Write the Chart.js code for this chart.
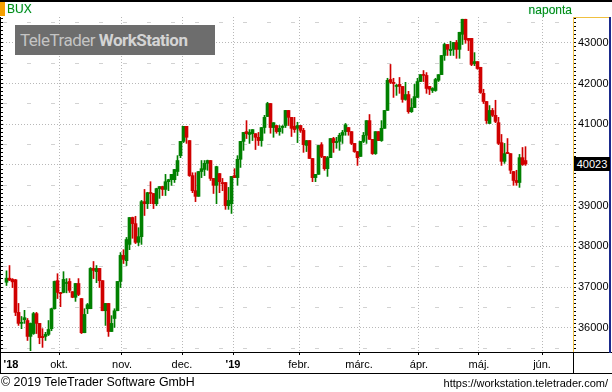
<!DOCTYPE html>
<html>
<head>
<meta charset="utf-8">
<script src="https://cdn.jsdelivr.net/npm/chart.js@4.4.1/dist/chart.umd.min.js"></script>
<style>
  html, body { margin: 0; padding: 0; background: #fff; }
  #box { position: relative; width: 612px; height: 392px; overflow: hidden; font-family: "Liberation Sans", Arial, sans-serif; }
  #box canvas { position: absolute; left: 0; top: 0; }
  .ln { position: absolute; }
  #sym { position: absolute; left: 7px; top: 2px; font-size: 12px; color: #0a8a0a; text-shadow: 0 0 1px #6ee0e0; }
  #per { position: absolute; right: 40px; top: 3px; font-size: 12px; color: #0a8a0a; text-shadow: 0 0 1px #6ee0e0; }
  #wm { position: absolute; left: 15px; top: 25px; width: 200px; height: 30px; background: #6d6d6d; font-family: Roboto, sans-serif; font-size: 17px; letter-spacing: -0.5px; line-height: 30px; white-space: nowrap; padding-left: 5px; box-sizing: border-box; }
  #wm span { color: #c4c4c4; }
  #wm b { color: #d4d4d4; }
  #last { position: absolute; left: 574px; width: 36px; height: 14px; background: #000; color: #fff; font-size: 11px; line-height: 14px; text-align: center; }
  #copy { position: absolute; left: 1px; top: 375px; font-size: 12.4px; color: #000; }
  #url { position: absolute; right: 4px; top: 377px; font-size: 11px; color: #000; }
</style>
</head>
<body>
<div id="box">
  <canvas id="chart" width="612" height="392"></canvas>

  <!-- keret -->
  <div class="ln" style="left:0;top:0;width:612px;height:2px;background:#000"></div>
  <div class="ln" style="left:0;top:2px;width:5px;height:14px;background:#f5a000"></div>
  <div class="ln" style="left:0;top:17px;width:1px;height:357px;background:#000"></div>
  <div class="ln" style="left:0;top:352px;width:612px;height:1px;background:#000"></div>
  <div class="ln" style="left:0;top:373px;width:612px;height:1px;background:#000"></div>
  <div class="ln" style="left:573px;top:17px;width:37px;height:1px;background:#f0c040"></div>
  <div class="ln" style="left:573px;top:17px;width:1px;height:335px;background:#f0c040"></div>
  <div class="ln" style="left:609px;top:17px;width:2px;height:336px;background:#1a2a8c"></div>
  <div class="ln" style="left:573px;top:352px;width:1px;height:22px;background:#000"></div>

  <div id="sym">BUX</div>
  <div id="per">naponta</div>
  <div id="wm"><span>TeleTrader </span><b>WorkStation</b></div>
  <div id="last"></div>
  <div id="copy">© 2019 TeleTrader Software GmbH</div>
  <div id="url">https://workstation.teletrader.com/</div>
</div>

<script>
// BUX napi gyertyák, 2018. szept. 5. – 2019. máj. 23.
const open = [
  37120, 37220, 37190, 37180, 36380, 36110, 36200, 36180, 35790, 35860,
  36350, 36110, 35790, 35790, 35840, 35980, 36470, 37160, 36870, 36870,
  37090, 37140, 36890, 36750, 37090, 36720, 35880, 36470, 36470, 37460,
  37380, 37460, 37160, 36420, 36600, 35910, 36230, 36420, 37140, 37780,
  37650, 38050, 38710, 38560, 38100, 38240, 39100, 39050, 39320, 39300,
  39050, 39420, 39470, 39400, 39590, 39640, 39640, 39840, 40230, 40580,
  40950, 40600, 39740, 39370, 39230, 39840, 39890, 40040, 40110, 39670,
  39500, 39790, 39570, 39570, 39000, 39050, 39740, 39690, 40140, 40580,
  40820, 40750, 40770, 40770, 40680, 40600, 40920, 41190, 41510, 40920,
  40970, 40820, 40920, 40970, 41340, 41170, 40950, 40900, 40970, 40850,
  40480, 40600, 40160, 39690, 39770, 40500, 40210, 39910, 40180, 40650,
  40550, 40580, 40730, 40820, 40920, 40820, 40530, 40330, 40210, 40580,
  40730, 41090, 40630, 40280, 40820, 40600, 40900, 41340, 42100, 42030,
  41930, 41980, 41930, 41610, 41730, 41310, 41410, 41660, 42050, 42220,
  42200, 41930, 41830, 41830, 42080, 42220, 42690, 42960, 42810, 42840,
  43010, 42840, 43210, 43580, 43110, 43110, 42490, 42540, 42400, 41760,
  41560, 41020, 41340, 41220, 41040, 40550, 40090, 40310, 40280, 39840,
  39620, 39570, 40180, 40110
];
const high = [
  37400, 37530, 37210, 37190, 36600, 36280, 36430, 36230, 36120, 36380,
  36380, 36110, 35980, 35890, 36180, 36480, 37150, 37330, 36870, 37380,
  37210, 37210, 36890, 37090, 37210, 36720, 36470, 36600, 37480, 37630,
  37530, 37460, 37160, 36600, 36600, 36300, 36470, 37140, 37850, 37920,
  38220, 38710, 38720, 38740, 38460, 39130, 39400, 39330, 39590, 39300,
  39430, 39470, 39480, 39770, 39650, 39770, 39890, 40230, 40580, 40950,
  40950, 40600, 39810, 39810, 39840, 40110, 40110, 40120, 40110, 39670,
  39970, 39790, 39670, 39570, 39450, 39720, 39910, 40230, 40580, 40800,
  41090, 40870, 40870, 40770, 40800, 40920, 41220, 41540, 41510, 41040,
  40970, 40970, 40970, 41340, 41340, 41170, 41170, 41050, 40970, 40900,
  40600, 40600, 40160, 39770, 40480, 40550, 40210, 40210, 40650, 40680,
  40680, 40780, 40850, 41020, 40920, 40820, 40530, 40330, 40580, 40800,
  41090, 41240, 40630, 40820, 40820, 41090, 41340, 42130, 42470, 42130,
  41980, 42150, 41930, 42030, 41810, 41630, 41980, 42130, 42220, 42320,
  42270, 41930, 41900, 42130, 42220, 42690, 42990, 42960, 43040, 43010,
  43060, 43260, 43580, 43580, 43110, 43110, 42760, 42540, 42400, 41860,
  41560, 41460, 41390, 41590, 41170, 40750, 40530, 40650, 40280, 39840,
  39870, 40260, 40430, 40450
];
const low = [
  37040, 37160, 36990, 36300, 36060, 35980, 36110, 35690, 35440, 35840,
  35860, 35610, 35520, 35690, 35810, 35930, 36460, 36720, 36520, 36860,
  36860, 36870, 36740, 36650, 36790, 35860, 35880, 36350, 36470, 37210,
  37110, 36990, 36420, 36060, 35790, 35910, 36010, 36420, 36990, 37580,
  37530, 37920, 38200, 38070, 38020, 38050, 38760, 38930, 39050, 38930,
  39000, 39180, 39250, 39250, 39370, 39500, 39570, 39740, 40180, 40550,
  40530, 39720, 39320, 39100, 39230, 39690, 39740, 39870, 39620, 39300,
  39050, 39320, 39370, 38910, 38910, 38810, 39690, 39500, 39940, 40360,
  40650, 40530, 40600, 40380, 40480, 40460, 40780, 41190, 40780, 40680,
  40780, 40730, 40780, 40920, 40970, 40700, 40800, 40550, 40800, 40310,
  40330, 40160, 39590, 39590, 39770, 40180, 39870, 39720, 40180, 40310,
  40410, 40360, 40530, 40730, 40730, 40500, 40310, 39990, 40210, 40550,
  40530, 40630, 40260, 40260, 40600, 40580, 40900, 41340, 42000, 41660,
  41710, 41760, 41540, 41590, 41270, 41290, 41410, 41660, 42050, 42050,
  41760, 41730, 41780, 41810, 42050, 42220, 42570, 42690, 42690, 42690,
  42620, 42620, 42960, 42990, 42810, 42440, 42440, 42350, 41760, 41510,
  41020, 41020, 41190, 41040, 40500, 39990, 40040, 40280, 39790, 39500,
  39500, 39450, 39990, 39990
];
const close = [
  37220, 37170, 37130, 36380, 36110, 36130, 36250, 35790, 36110, 36350,
  36110, 35760, 35760, 35840, 35960, 36470, 37140, 36870, 36840, 37190,
  37110, 36920, 36750, 37090, 36820, 35880, 36330, 36570, 37460, 37410,
  37460, 37160, 36420, 36600, 35910, 36110, 36420, 37140, 37780, 37680,
  38170, 38710, 38560, 38100, 38240, 39100, 39050, 39320, 39300, 39050,
  39420, 39470, 39400, 39590, 39640, 39770, 39890, 40110, 40580, 40950,
  40680, 39740, 39370, 39230, 39840, 39910, 40040, 40110, 39670, 39500,
  39960, 39590, 39540, 39000, 39130, 39720, 39690, 40140, 40580, 40800,
  40770, 40800, 40870, 40680, 40600, 40920, 41170, 41510, 40920, 41040,
  40820, 40900, 40950, 41340, 41170, 40900, 40870, 40970, 40850, 40500,
  40600, 40160, 39690, 39770, 40480, 40210, 39910, 40180, 40650, 40550,
  40580, 40730, 40800, 40990, 40820, 40530, 40330, 40180, 40580, 40730,
  41090, 40630, 40280, 40820, 40600, 40900, 41340, 42080, 42030, 42000,
  41950, 41930, 41610, 41730, 41310, 41410, 41680, 42050, 42220, 42200,
  41880, 41860, 41880, 42100, 42220, 42690, 42960, 42840, 42840, 43010,
  42840, 43260, 43580, 43080, 43060, 42470, 42540, 42370, 41780, 41560,
  41090, 41340, 41220, 41070, 40530, 40090, 40280, 40280, 39870, 39620,
  39570, 40180, 40010, 40023
];

// időtengely: hónapok első kereskedési napja (gyertya-sorszám), és feliratuk
const monthLabels = ["'18", "okt.", "nov.", "dec.", "'19", "febr.", "márc.", "ápr.", "máj.", "jún."];
const monthStartDay = [2, 18, 39, 59, 76, 98, 118, 138, 158, 179];
const yearLabels = ["'18", "'19"];

// ártengely
const priceMin = 35407;
const priceMax = 43635;
const priceStep = 100;
const labelStep = 1000;

const GREEN = "#008000";
const RED = "#d00000";
const GRID = "#b8b8b8";
const FONT = "'Liberation Sans', Arial, sans-serif";

// 3 px per nap, az első gyertya a 6.5 px-nél
const X_MIN = -7 / 6;
const X_MAX = X_MIN + 190;

const days = open.map((_, i) => i);
const colors = days.map((i) => (close[i] >= open[i] ? GREEN : RED));

function priceTicks(axis) {
  const t = [];
  for (let v = Math.ceil(priceMin / priceStep) * priceStep; v <= priceMax; v += priceStep) t.push({ value: v });
  axis.ticks = t;
}

const lastLabel = {
  id: "lastLabel",
  afterDraw(chart) {
    const v = close[close.length - 1];
    const y = chart.scales.y.getPixelForValue(v);
    const el = document.getElementById("last");
    el.textContent = String(v);
    el.style.top = Math.round(y - 7) + "px";
  }
};

new Chart(document.getElementById("chart"), {
  type: "bar",
  data: {
    datasets: [
      {
        data: days.map((i) => ({ x: i, y: [low[i], high[i]] })),
        backgroundColor: colors,
        barThickness: 1,
        grouped: false,
        order: 2
      },
      {
        data: days.map((i) => ({ x: i, y: [open[i], close[i]] })),
        backgroundColor: colors,
        barThickness: 3,
        minBarLength: 1,
        grouped: false,
        order: 1
      }
    ]
  },
  options: {
    responsive: false,
    animation: false,
    layout: { padding: { top: 17, right: 2, bottom: 18, left: 0 } },
    plugins: { legend: { display: false }, tooltip: { enabled: false } },
    scales: {
      x: {
        type: "linear",
        min: X_MIN,
        max: X_MAX,
        offset: false,
        afterBuildTicks: (axis) => {
          axis.ticks = monthStartDay.map((d) => ({ value: d - 0.5 }));
        },
        afterFit: (axis) => { axis.height = 22; },
        grid: {
          offset: false,
          color: (c) => (c.index === 0 ? "rgba(0,0,0,0)" : GRID),
          tickColor: (c) => (c.index === 0 ? "rgba(0,0,0,0)" : "#000"),
          tickLength: 3
        },
        border: { display: false, dash: [1, 2] },
        ticks: {
          autoSkip: false,
          maxRotation: 0,
          padding: 3,
          color: "#000",
          font: (c) => ({ family: FONT, size: 11, weight: yearLabels.includes(monthLabels[c.index]) ? "bold" : "normal" }),
          callback: (v, i) => monthLabels[i]
        }
      },
      y: {
        position: "right",
        min: priceMin,
        max: priceMax,
        afterBuildTicks: priceTicks,
        afterFit: (axis) => { axis.width = 37; },
        grid: {
          color: (c) => (c.tick.value % labelStep === 0 ? GRID : c.tick.value % 500 === 0 ? "#d2d2d2" : "rgba(0,0,0,0)"),
          tickColor: "#000",
          tickLength: 3
        },
        border: {
          display: false,
          dash: (c) => (c.tick && c.tick.value % labelStep === 0 ? [1, 2] : [4, 20])
        },
        ticks: {
          autoSkip: false,
          padding: 2,
          color: "#000",
          font: { family: FONT, size: 11 },
          callback: (v) => (v % labelStep === 0 ? String(v) : "")
        }
      },
      yl: {
        position: "left",
        min: priceMin,
        max: priceMax,
        afterBuildTicks: priceTicks,
        afterFit: (axis) => { axis.width = 3; },
        grid: { drawOnChartArea: false, tickColor: "#000", tickLength: 3 },
        border: { display: false },
        ticks: { display: false }
      }
    }
  },
  plugins: [lastLabel]
});
</script>
</body>
</html>
